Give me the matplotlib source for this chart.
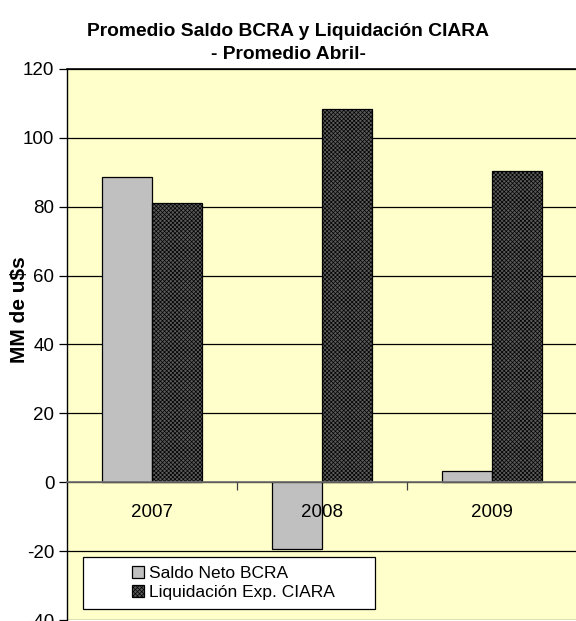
import numpy as np
import matplotlib.pyplot as plt
from matplotlib.patches import Rectangle

plt.rcParams['font.family'] = ['Liberation Sans', 'DejaVu Sans']
plt.rcParams['axes.unicode_minus'] = False
plt.rcParams['hatch.color'] = '#3c3c3c'
plt.rcParams['hatch.linewidth'] = 0.5

# datos (MM de u$s)
anios = ['2007', '2008', '2009']
saldo_bcra = [88.5, -19.5, 3.2]
liquidacion_ciara = [81.0, 108.5, 90.5]
yticks = [-40, -20, 0, 20, 40, 60, 80, 100, 120]

fig = plt.figure(figsize=(5.76, 6.21), dpi=100)
ax = fig.add_axes([0.1163, 0.0016, 0.8854, 0.8873])
ax.set_facecolor('#FFFFCC')

x = np.arange(len(anios))
w = 0.294
ax.bar(x - w / 2, saldo_bcra, w, color='#C0C0C0', edgecolor='black', linewidth=0.9,
       label='Saldo Neto BCRA', zorder=3)
ax.bar(x + w / 2, liquidacion_ciara, w, color='#5a5a5a', edgecolor='black', linewidth=0.9,
       hatch='xxxxxxxx', label='Liquidación Exp. CIARA', zorder=3)

ax.set_xlim(-0.5, 2.5)
ax.set_ylim(-40, 120)
ax.set_yticks(yticks)
ax.yaxis.grid(True, color='black', linewidth=0.9, zorder=1)
ax.set_axisbelow(True)
ax.tick_params(axis='y', labelsize=13.5, length=6, width=0.9, pad=3)

# eje x en el cero
ax.spines['bottom'].set_position(('data', 0))
ax.spines['bottom'].set_color('#707070')
ax.spines['bottom'].set_linewidth(1.2)
ax.spines['bottom'].set_zorder(4)
ax.spines['right'].set_visible(False)
ax.spines['left'].set_linewidth(1.0)
ax.spines['top'].set_linewidth(1.2)
ax.set_xticks(x)
ax.set_xticklabels(anios)
ax.tick_params(axis='x', which='major', length=0, pad=16, labelsize=13.5)
ax.set_xticks([0.5, 1.5], minor=True)
ax.tick_params(axis='x', which='minor', length=6, width=0.9, color='#404040', direction='out')
ax.xaxis.set_zorder(4)  # etiquetas de años encima de las barras

ax.set_ylabel('MM de u$s', fontsize=15, fontweight='bold', labelpad=-2)
ax.yaxis.set_label_coords(-0.074, 0.563)

# leyenda con marco ancho
ax.add_patch(Rectangle((0.031, 0.02), 0.573, 0.094, transform=ax.transAxes,
                       facecolor='white', edgecolor='black', linewidth=0.9, zorder=5))
leg = ax.legend(loc='center left', bbox_to_anchor=(0.11, 0.067), frameon=False,
                fontsize=12.5, handlelength=0.7, handleheight=0.7, handletextpad=0.3,
                labelspacing=0.2, borderpad=0)
leg.set_zorder(6)

fig.text(0.5, 0.950, 'Promedio Saldo BCRA y Liquidación CIARA', ha='center', va='center',
         fontsize=13.9, fontweight='bold')
fig.text(0.5, 0.912, '- Promedio Abril-', ha='center', va='center',
         fontsize=13.9, fontweight='bold')

fig.savefig('out.png', dpi=100)
